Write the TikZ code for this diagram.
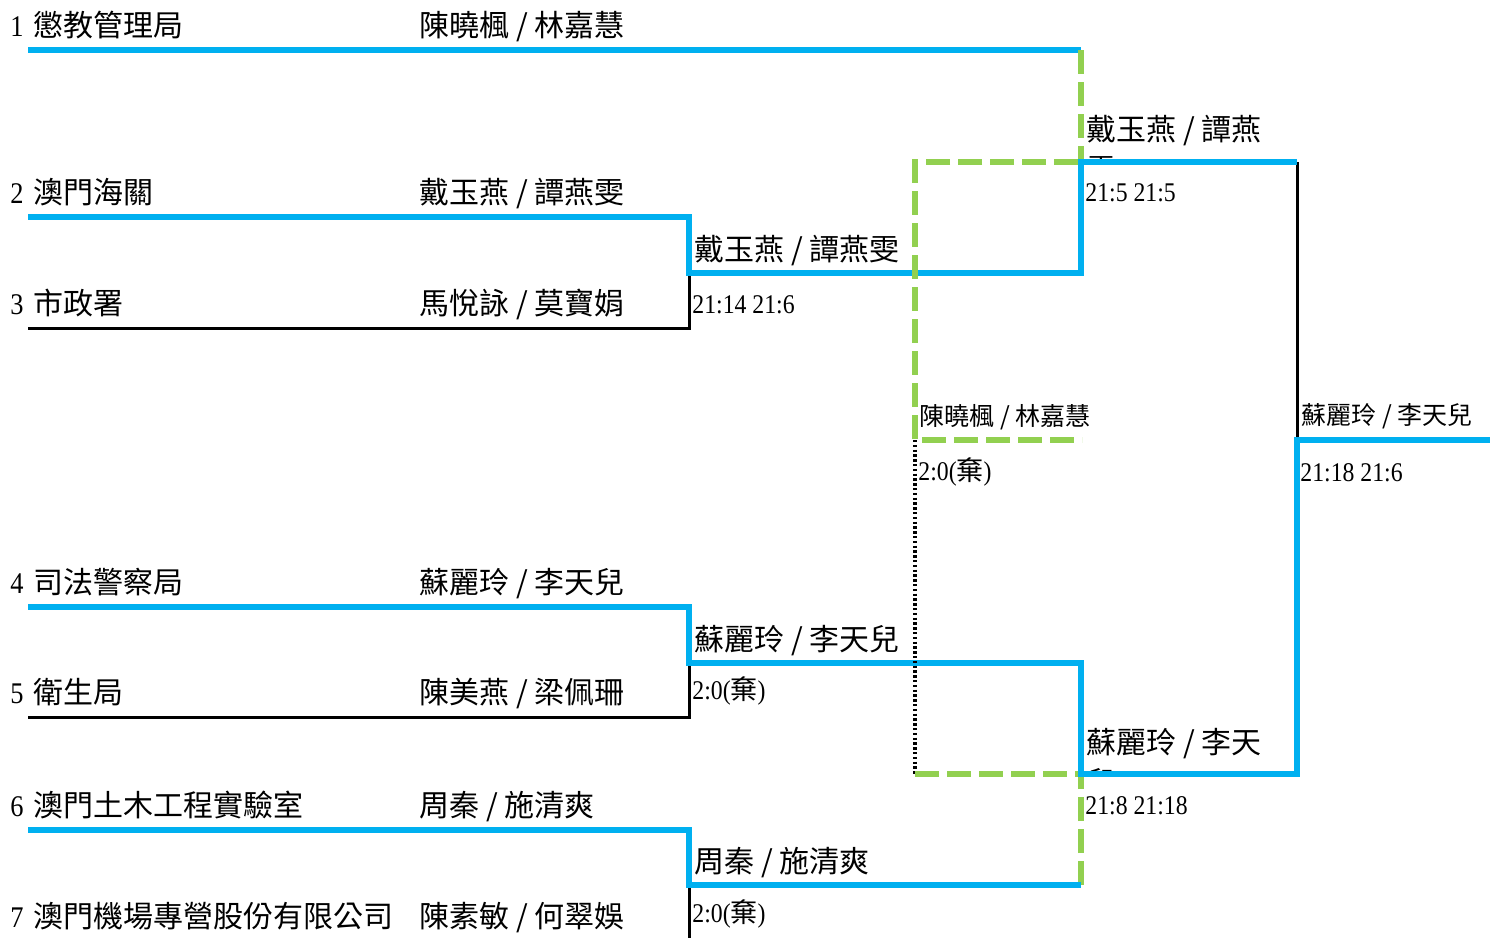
\documentclass[tikz,border=0pt]{standalone}
\usepackage{fontspec}
\setmainfont{Liberation Serif}[FakeStretch=0.88]
\newfontfamily\cjk{Noto Sans CJK TC}
\definecolor{myblue}{HTML}{00B0F0}
\definecolor{mygreen}{HTML}{92D050}
\usetikzlibrary{positioning}

\begin{document}
\begin{tikzpicture}[x=0.5pt, y=-0.5pt,
    team/.style={anchor=base west, inner sep=0pt, font=\fontsize{15pt}{18pt}\selectfont},
    pair/.style={anchor=base west, inner sep=0pt, font=\fontsize{12.5pt}{15pt}\selectfont},
    score/.style={anchor=base west, inner sep=0pt, font=\fontsize{13.5pt}{16pt}\selectfont},
    winline/.style={draw=myblue, line width=3pt},
    loseline/.style={draw=black, line width=1.5pt},
    byeline/.style={draw=mygreen, line width=3pt, dash pattern=on 12pt off 4pt},
    dotline/.style={draw=black, line width=1.8pt, dash pattern=on 1.2pt off 1.2pt}]
    \useasboundingbox (0,0) rectangle (1491,938);

    \foreach \i/\y/\team/\pair in {1/50/懲教管理局/{陳曉楓 / 林嘉慧}, 2/217/澳門海關/{戴玉燕 / 譚燕雯},
        3/328/市政署/{馬悅詠 / 莫寶娟}, 4/607/司法警察局/{蘇麗玲 / 李天兒}, 5/717/衛生局/{陳美燕 / 梁佩珊},
        6/830/澳門土木工程實驗室/{周秦 / 施清爽}, 7/941/澳門機場專營股份有限公司/{陳素敏 / 何翠娛}} {
        \coordinate (s\i) at (28,\y);
        \node[team] (t\i) at (10,\y-14) {\i\hspace{5pt}{\cjk\team}};
        \node[team] (p\i) at (419,\y-14) {{\cjk\pair}};
    }

    \coordinate (e1) at (1081,50);
    \coordinate (q1) at (1081,162);
    \coordinate (a2) at (689,217);
    \coordinate (a3) at (689,328);
    \coordinate (a23) at (689,273);
    \coordinate (b23) at (1081,273);
    \coordinate (f1) at (1297,162);
    \coordinate (f0) at (1297,440);
    \coordinate (fin) at (1490,440);
    \coordinate (a4) at (689,607);
    \coordinate (a5) at (689,717);
    \coordinate (a45) at (689,663);
    \coordinate (b45) at (1081,663);
    \coordinate (q2) at (1081,774);
    \coordinate (f2) at (1297,774);
    \coordinate (a6) at (689,830);
    \coordinate (a67) at (689,885);
    \coordinate (b67) at (1081,885);
    \coordinate (a7) at (689,938);
    \coordinate (qx) at (1078,162);
    \coordinate (m1) at (915,162);
    \coordinate (m0) at (915,440);
    \coordinate (mx) at (1082,440);
    \coordinate (m2) at (915,774);
    \coordinate (my) at (1078,774);

    \begin{scope}
        \clip (1084,100) rectangle (1294,160);
        \node[team] (w1b) at (1086,180) {\cjk 雯};
    \end{scope}
    \begin{scope}
        \clip (1084,700) rectangle (1294,772);
        \node[team] (w2b) at (1086,793) {\cjk 兒};
    \end{scope}

    \draw[winline] (s1) -- (e1);
    \draw[byeline] (e1) -- (q1);
    \draw[loseline] (s3) -- (a3) -- (a23);
    \draw[loseline] (s5) -- (a5) -- (a45);
    \draw[loseline] (f1) -- (f0);
    \draw[loseline] (a67) -- (a7);
    \draw[byeline] (b67) -- (q2);
    \draw[winline] (s2) -- (a2) -- (a23) -- (b23) -- (q1) -- (f1);
    \draw[winline] (s4) -- (a4) -- (a45) -- (b45) -- (q2) -- (f2) -- (f0) -- (fin);
    \draw[winline] (s6) -- (a6) -- (a67) -- (b67);
    \draw[byeline] (qx) -- (m1) -- (m0) -- (mx);
    \draw[dotline] (m0) -- (m2);
    \draw[byeline] (m2) -- (my);

    \node[team] (w23) at (694,260) {\cjk 戴玉燕 / 譚燕雯};
    \node[score] (r23) at (692,313) {21:14 21:6};
    \node[team] (w45) at (694,650) {\cjk 蘇麗玲 / 李天兒};
    \node[score] (r45) at (692,699) {2:0({\cjk 棄})};
    \node[team] (w67) at (694,872) {\cjk 周秦 / 施清爽};
    \node[score] (r67) at (692,922) {2:0({\cjk 棄})};
    \node[team] (w1) at (1086,140) {\cjk 戴玉燕 / 譚燕};
    \node[score] (r1) at (1085,201) {21:5 21:5};
    \node[team] (w2) at (1086,753) {\cjk 蘇麗玲 / 李天};
    \node[score] (r2) at (1085,814) {21:8 21:18};
    \node[pair] (wm) at (919,425) {\cjk 陳曉楓 / 林嘉慧};
    \node[score] (rm) at (918,480) {2:0({\cjk 棄})};
    \node[pair] (wf) at (1301,424) {\cjk 蘇麗玲 / 李天兒};
    \node[score] (rf) at (1300,481) {21:18 21:6};
\end{tikzpicture}
\end{document}
